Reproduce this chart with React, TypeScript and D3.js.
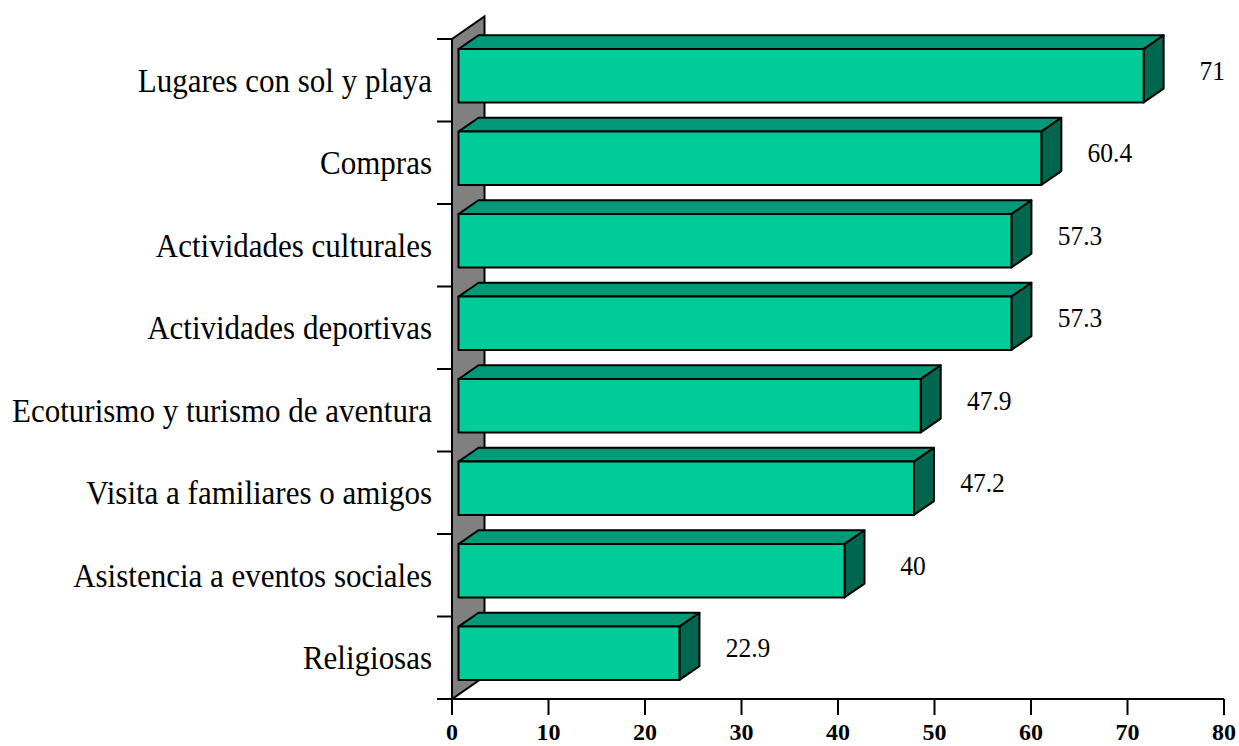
import React from "react";
import * as d3 from "d3";

const categories = [
  "Lugares con sol y playa",
  "Compras",
  "Actividades culturales",
  "Actividades deportivas",
  "Ecoturismo y turismo de aventura",
  "Visita a familiares o amigos",
  "Asistencia a eventos sociales",
  "Religiosas",
];
const values = [71, 60.4, 57.3, 57.3, 47.9, 47.2, 40, 22.9];
const xTicks = [0, 10, 20, 30, 40, 50, 60, 70, 80];

const W = 1239;
const H = 746;
const left = 452;
const right = 1224;
const top = 39;
const bottom = 699;
// depth vector of the 3D wall
const DX = 32.5;
const DY = -22.5;
const F1 = 0.2;
const F2 = 0.815;

const FRONT = "#00CC99";
const TOPC = "#009A78";
const SIDE = "#00664D";

export default function App() {
  const x = d3.scaleLinear().domain([0, 80]).range([left, right]);
  const y = d3.scaleBand<string>().domain(categories).range([top, bottom]).padding(0);
  const bw = y.bandwidth();
  const barH = bw * 0.646;
  const fx = DX * F1, fy = DY * F1;
  const bx = DX * F2, by = DY * F2;
  const ddx = bx - fx, ddy = by - fy;
  const pts = (p: [number, number][]) => p.map((q) => q.join(",")).join(" ");
  const boundaries = d3.range(categories.length + 1).map((i) => top + i * bw);

  return (
    <svg
      width={W}
      height={H}
      style={{ position: "fixed", left: 0, top: 0, display: "block", background: "#fff" }}
      fontFamily="'Liberation Serif', 'Times New Roman', serif"
    >
      {/* back wall */}
      <polygon
        points={pts([
          [left, top],
          [left + DX, top + DY],
          [left + DX, bottom + DY],
          [left, bottom],
        ])}
        fill="#808080"
        stroke="#000"
        strokeWidth={2}
        strokeLinejoin="miter"
      />
      {/* left axis ticks */}
      {boundaries.map((b, i) => (
        <line key={"yt" + i} x1={left - 15} x2={left} y1={b} y2={b} stroke="#000" strokeWidth={2} />
      ))}
      {/* bars */}
      {categories.map((c, i) => {
        const cy = (y(c) as number) + bw / 2 + fy;
        const yt = cy - barH / 2;
        const yb = cy + barH / 2;
        const x0 = x(0) + fx;
        const x1 = x(values[i]) + fx;
        return (
          <g key={c} stroke="#000" strokeWidth={2} strokeLinejoin="round">
            <polygon
              points={pts([
                [x0, yt],
                [x0 + ddx, yt + ddy],
                [x1 + ddx, yt + ddy],
                [x1, yt],
              ])}
              fill={TOPC}
            />
            <polygon
              points={pts([
                [x1, yt],
                [x1 + ddx, yt + ddy],
                [x1 + ddx, yb + ddy],
                [x1, yb],
              ])}
              fill={SIDE}
            />
            <rect x={x0} y={yt} width={x1 - x0} height={yb - yt} fill={FRONT} />
          </g>
        );
      })}
      {/* value labels */}
      {categories.map((c, i) => (
        <text
          key={"v" + c}
          transform={`translate(${x(values[i]) + 75},${(y(c) as number) + bw / 2 - 10}) scale(1,1.08)`}
          fontSize={25.5}
          textAnchor="middle"
          dominantBaseline="central"
          fill="#000"
        >
          {String(values[i])}
        </text>
      ))}
      {/* category labels */}
      {categories.map((c) => (
        <text
          key={"c" + c}
          transform={`translate(432,${(y(c) as number) + bw / 2}) scale(1,1.08)`}
          fontSize={31}
          textAnchor="end"
          dominantBaseline="central"
          fill="#000"
        >
          {c}
        </text>
      ))}
      {/* x axis */}
      <line x1={left - 15} x2={right} y1={bottom} y2={bottom} stroke="#000" strokeWidth={2} />
      {xTicks.map((t) => (
        <g key={"xt" + t}>
          <line x1={x(t)} x2={x(t)} y1={bottom} y2={bottom + 16} stroke="#000" strokeWidth={2} />
          <text x={x(t)} y={740} fontSize={24} fontWeight="bold" textAnchor="middle" fill="#000">
            {t}
          </text>
        </g>
      ))}
    </svg>
  );
}
